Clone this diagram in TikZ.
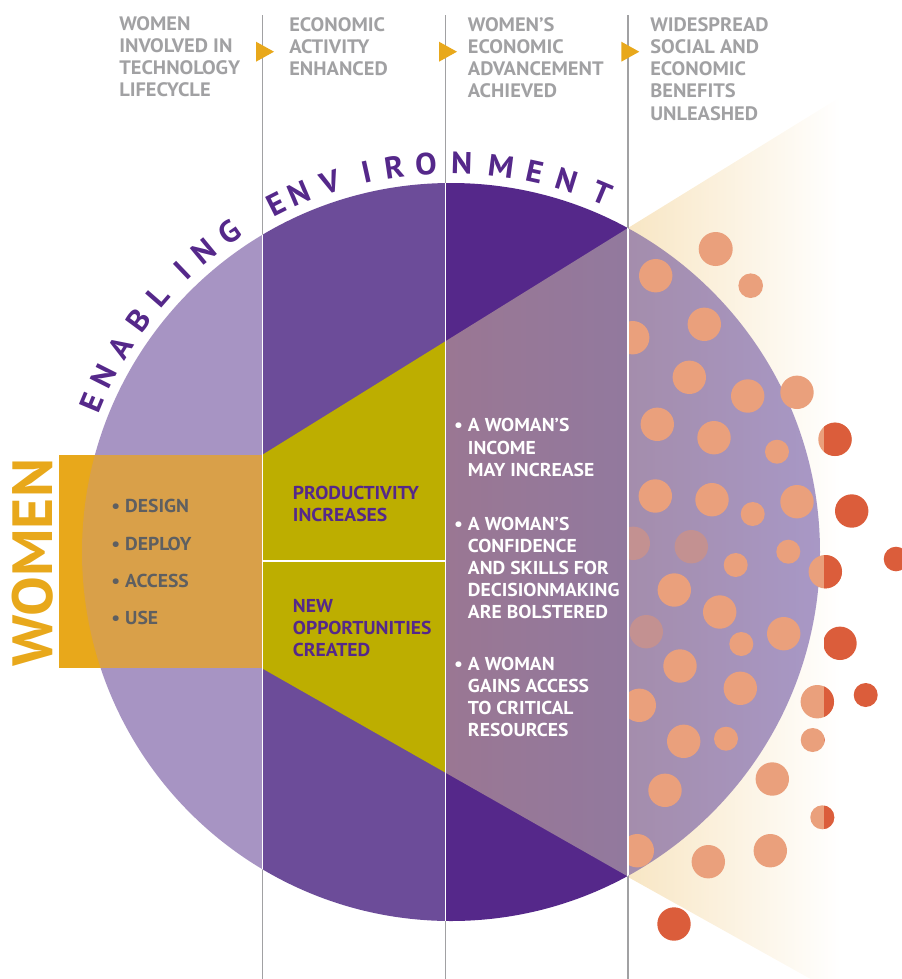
\documentclass[tikz,border=0pt]{standalone}
\usepackage{fontspec}
\setmainfont{PT Sans}[FakeStretch=1.05]
\usetikzlibrary{positioning}
\definecolor{hdrgray}{HTML}{A1A1A3}
\definecolor{txtgray}{HTML}{5E5F61}
\definecolor{lightpurple}{HTML}{A794C3}
\definecolor{midpurple}{HTML}{6C4C99}
\definecolor{darkpurple}{HTML}{55288A}
\definecolor{olive}{HTML}{BDAE00}
\definecolor{womenorange}{HTML}{E8A81B}
\definecolor{blendorange}{HTML}{D9A049}
\definecolor{cream}{HTML}{F8E6C4}
\definecolor{salmon}{HTML}{EAA07C}
\definecolor{dotred}{HTML}{DB5D3B}
\definecolor{dotmauve}{HTML}{C39191}

\begin{document}
\begin{tikzpicture}[x=0.75pt,y=-0.75pt,
    hdr/.style={anchor=north west, inner sep=0pt, align=left, text=hdrgray,
      font=\bfseries\fontsize{14.6}{16.7}\selectfont},
    role/.style={anchor=north west, inner sep=0pt, align=left, text=txtgray,
      font=\bfseries\fontsize{14}{16}\selectfont},
    gain/.style={anchor=north west, inner sep=0pt, align=left, text=darkpurple,
      font=\bfseries\fontsize{14}{16.3}\selectfont},
    result/.style={anchor=north west, inner sep=0pt, align=left, text=white,
      font=\bfseries\fontsize{14}{16.6}\selectfont},
    arcletter/.style={inner sep=0pt, text=darkpurple,
      font=\bfseries\fontsize{23}{23}\selectfont}]
  \useasboundingbox (0,0) rectangle (902,979);
  \coordinate (c) at (451,552);

  % cream cone behind the circle
  \begin{scope}
    \clip (628,228) -- (902,59) -- (902,1030) -- (628,877) -- cycle;
    \shade[left color=cream, right color=white] (628,0) rectangle (840,979);
  \end{scope}

  % the circle in four bands
  \begin{scope}
    \clip (c) circle (369);
    \fill[lightpurple] (0,0) rectangle (262,979);
    \fill[midpurple] (262,0) rectangle (446,979);
    \fill[darkpurple] (446,0) rectangle (628,979);
    \shade[left color={rgb,255:red,164;green,141;blue,172},
      right color={rgb,255:red,168;green,152;blue,198}] (628,0) rectangle (822,979);
  \end{scope}

  % funnel
  \fill[olive] (262,455) -- (446,340.9) -- (446,773) -- (262,668.3) -- cycle;
  \shade[left color={rgb,255:red,154;green,119;blue,147},
    right color={rgb,255:red,146;green,121;blue,158}]
    (446,340.9) -- (628,228) -- (628,876.5) -- (446,773) -- cycle;

  % dots
  \begin{scope}
    \clip (628,0) rectangle (902,979);
    \foreach \x/\y/\r in {715.7/249/17, 655.7/275.7/16.7, 750.7/285.7/12.3,
      704.3/324.3/16.7, 632.7/337.7/16.7, 689.3/377.3/16.7, 747.7/396/16.7,
      797/392.3/16.7, 657.3/424.3/16.7, 714/437.7/16.7, 777/451.7/12,
      655.3/496/16.7, 712/499.7/16.7, 752.7/514/12, 797/501.7/16.7,
      735.7/565/12, 788.3/551.7/12, 674.3/590/16.7, 719.7/612/16.7,
      741.3/644/12, 783.7/633.7/16.7, 680/666/16.7, 740.3/688.3/16.7,
      639.3/705.3/16.7, 683.7/741.3/16.7, 726/738.7/12, 812.7/740/12,
      665/790.3/16.7, 772.3/779/16.7, 637.3/850.7/16.7, 708.3/861.7/16.7,
      770.3/850.7/16.7, 835/439.3/16.7, 825.3/571.7/16.7, 817.3/701.7/16.7,
      822.3/817.3/12}
      \fill[salmon] (\x,\y) circle (\r);
    \foreach \x/\y in {633.3/543.3, 691.3/546.7, 646.3/631.7}
      \fill[dotmauve] (\x,\y) circle (16.7);
    \fill[dotred] (674,924) circle (16.7);
  \end{scope}
  \begin{scope}
    \clip (824,0) rectangle (902,979);
    \foreach \x/\y/\r in {835/439.3/16.7, 825.3/571.7/16.7, 817.3/701.7/16.7,
      822.3/817.3/12, 812.7/740/12, 851.7/511/16.7, 896/559/12.3,
      840/643.3/16.7, 865.7/695/12}
      \fill[dotred] (\x,\y) circle (\r);
  \end{scope}

  % women bar
  \fill[womenorange] (59.3,455) rectangle (262,668.3);
  \begin{scope}
    \clip (c) circle (369);
    \fill[blendorange] (59.3,455) rectangle (262,668.3);
  \end{scope}

  % column lines, white inside the circle
  \foreach \x in {262.7,445.7,628}
    \draw[hdrgray, line width=1.1pt] (\x,15) -- (\x,979);
  \begin{scope}
    \clip (c) circle (369);
    \foreach \x in {262.7,445.7,628}
      \draw[white, line width=1.1pt] (\x,0) -- (\x,979);
  \end{scope}
  \draw[white, line width=1.6pt] (262.7,561) -- (445.7,561);

  % arrow heads at the top
  \foreach \x in {262.7,445.7,628}
    \fill[womenorange] (\x-6.7,41.7) -- (\x-6.7,61.7) -- (\x+11.3,51.7) -- cycle;

  % headings
  \node[hdr] (h1) at (119,16) {WOMEN\\INVOLVED IN\\TECHNOLOGY\\LIFECYCLE};
  \node[hdr] (h2) at (289,17) {ECONOMIC\\ACTIVITY\\ENHANCED};
  \node[hdr] (h3) at (467.7,17) {WOMEN’S\\ECONOMIC\\ADVANCEMENT\\ACHIEVED};
  \node[hdr] (h4) at (650,17) {WIDESPREAD\\SOCIAL AND\\ECONOMIC\\BENEFITS\\UNLEASHED};

  % WOMEN
  \node[rotate=90, inner sep=0pt, text=womenorange,
    font=\bfseries\fontsize{42.5}{42.5}\selectfont] (women) at (33,562.5) {WOMEN};
  \node[role] (design) at (125,499) {\llap{\textbullet\ }DESIGN};
  \node[role] (deploy) at (125,536.7) {\llap{\textbullet\ }DEPLOY};
  \node[role] (access) at (125,574) {\llap{\textbullet\ }ACCESS};
  \node[role] (use) at (125,610.7) {\llap{\textbullet\ }USE};

  \node[gain] (prod) at (292.7,486) {PRODUCTIVITY\\INCREASES};
  \node[gain] (opp) at (292.7,599.3) {NEW\\OPPORTUNITIES\\CREATED};

  \node[result] (income) at (467.7,418.3) {\llap{\textbullet\ }A WOMAN’S\\INCOME\\MAY INCREASE};
  \node[result] (skills) at (467.7,516.7) {\llap{\textbullet\ }A WOMAN’S\\CONFIDENCE\\AND SKILLS FOR\\DECISIONMAKING\\ARE BOLSTERED};
  \node[result] (resources) at (467.7,656.7) {\llap{\textbullet\ }A WOMAN\\GAINS ACCESS\\TO CRITICAL\\RESOURCES};

  % enabling environment round the top
  \foreach \a/\ch [count=\i] in {157.4/E, 153.2/N, 148.2/A, 143.5/B, 138.9/L,
    133.7/I, 129.5/N, 124.7/G, 116.7/E, 113.0/N, 108.1/V, 102.5/I, 98.4/R,
    93.7/O, 88.4/N, 82.6/M, 77.6/E, 72.7/N, 67.2/T}
    \node[arcletter, rotate=\a-90] (ee\i) at ({451+389*cos(\a)},{552-389*sin(\a)}) {\ch};
\end{tikzpicture}
\end{document}
